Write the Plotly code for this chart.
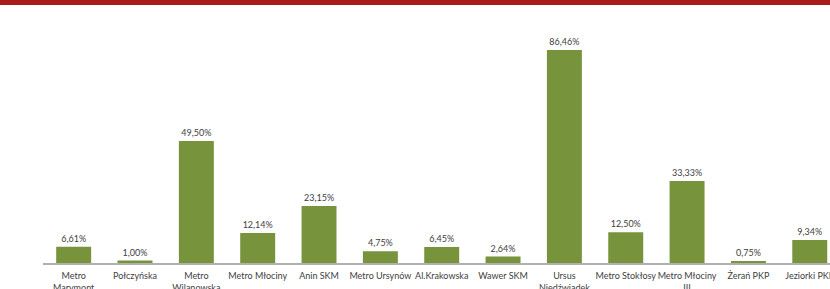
import plotly.graph_objects as go

categories = ["Metro<br>Marymont", "Połczyńska", "Metro<br>Wilanowska", "Metro Młociny",
              "Anin SKM", "Metro Ursynów", "Al.Krakowska", "Wawer SKM",
              "Ursus<br>Niedźwiadek", "Metro Stokłosy", "Metro Młociny<br>III",
              "Żerań PKP", "Jeziorki PKP"]
values = [6.61, 1.00, 49.50, 12.14, 23.15, 4.75, 6.45, 2.64, 86.46, 12.50, 33.33, 0.75, 9.34]
labels = [f"{v:.2f}".replace(".", ",") + "%" for v in values]

FONT = "Lato"

fig = go.Figure(go.Bar(
    x=list(range(len(categories))), y=values,
    text=labels, textposition="outside", cliponaxis=False, constraintext="none",
    textfont=dict(size=9, color="#404040", family=FONT),
    marker=dict(color="#77933c", line=dict(width=0)),
    width=0.57,
))

fig.update_layout(
    width=830, height=289,
    margin=dict(l=43, r=0, t=29, b=26),
    plot_bgcolor="white", paper_bgcolor="white",
    showlegend=False,
    font=dict(family=FONT, size=9, color="#404040"),
    xaxis=dict(range=[-0.5, 12.33], tickmode="array",
               tickvals=list(range(len(categories))), ticktext=categories,
               showgrid=False, zeroline=False, showline=True,
               linecolor="#b0b0b0", linewidth=2, automargin=False,
               ticklabeloverflow="allow",
               ticks="outside", ticklen=3, tickcolor="rgba(0,0,0,0)", tickangle=0,
               tickfont=dict(size=9, color="#404040", family=FONT)),
    yaxis=dict(range=[0, 95], visible=False, showgrid=False, zeroline=False),
    shapes=[dict(type="rect", xref="paper", yref="paper",
                 x0=-0.1, x1=1.1, ysizemode="pixel", yanchor=1,
                 y0=24, y1=35, fillcolor="#ab1a1a", line=dict(width=0))],
)

fig.write_html("out.html", config={"displayModeBar": False},
               post_script="document.body.style.margin='0';document.body.style.overflow='hidden';")
